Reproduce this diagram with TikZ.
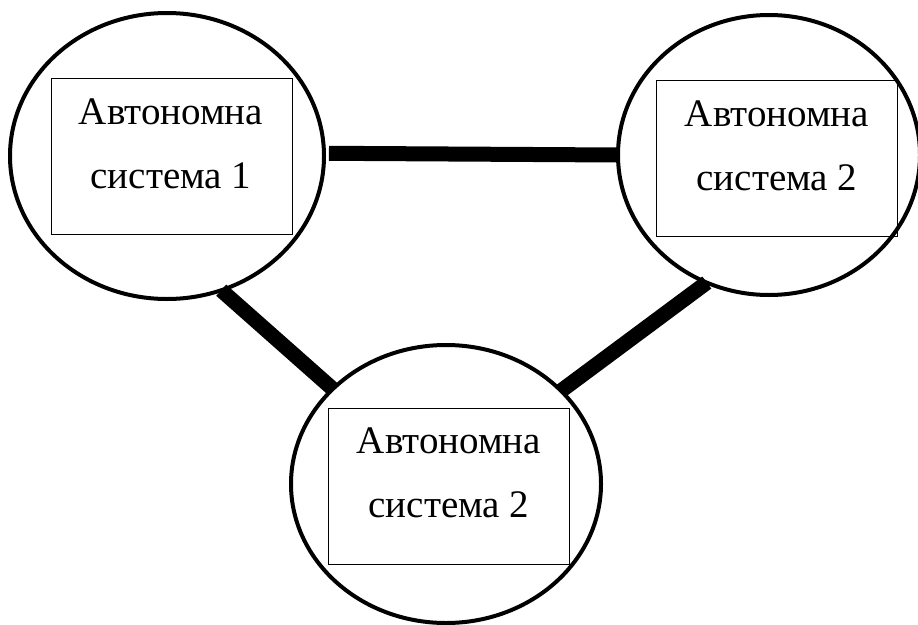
\documentclass[tikz,border=0pt]{standalone}
\usepackage{fontspec}
\setmainfont{Liberation Serif}
\usetikzlibrary{shapes.geometric}
\tikzset{
  asring/.style={draw, ellipse, line width=4pt, inner sep=0pt, outer sep=0pt},
  asbox/.style={draw, rectangle, line width=0.9pt, inner sep=0pt, outer sep=0pt,
                minimum width=241pt, minimum height=156pt},
  aslabel/.style={anchor=base, inner sep=0pt, font=\fontsize{39}{45}\selectfont},
  link/.style={line width=15pt, line cap=butt}
}
\begin{document}
\begin{tikzpicture}[x=1pt, y=-1pt]
  \useasboundingbox (0,0) rectangle (918,624);

  % autonomous systems drawn as rings
  \node[asring, minimum width=314pt, minimum height=286pt] (e1) at (167,156) {};
  \node[asring, minimum width=302pt, minimum height=280pt] (e2) at (769,155) {};
  \node[asring, minimum width=310pt, minimum height=278pt] (e3) at (446,484) {};

  % inner frames
  \node[asbox] (b1) at (171.5,156) {};
  \node[asbox] (b2) at (777,158) {};
  \node[asbox] (b3) at (449,486) {};

  % captions
  \node[aslabel] (t1a) at (171,124) {Автономна};
  \node[aslabel] (t1b) at (171,188) {система 1};
  \node[aslabel] (t2a) at (777,126) {Автономна};
  \node[aslabel] (t2b) at (777,190) {система 2};
  \node[aslabel] (t3a) at (449,453) {Автономна};
  \node[aslabel] (t3b) at (449,517) {система 2};

  % links between the systems
  \draw[link, shorten <=5pt] (e1.1) -- (e2.180);
  \draw[link] (e1.-68) -- (e3.140);
  \draw[link] (e2.-116) -- (e3.39);
\end{tikzpicture}
\end{document}
